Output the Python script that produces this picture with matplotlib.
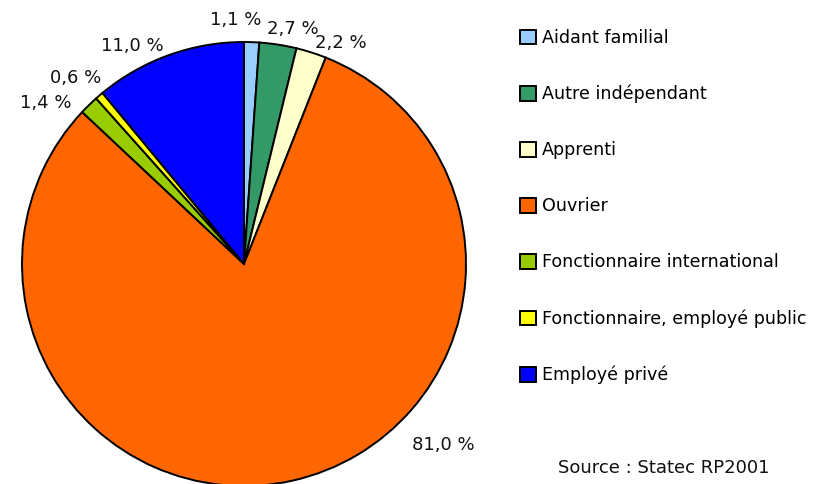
import matplotlib
matplotlib.use("Agg")
import matplotlib.pyplot as plt

# data
categories = ['Aidant familial', 'Autre indépendant', 'Apprenti', 'Ouvrier',
              'Fonctionnaire international', 'Fonctionnaire, employé public',
              'Employé privé']
shares = [1.1, 2.7, 2.2, 81.0, 1.4, 0.6, 11.0]
share_labels = ['1,1 %', '2,7 %', '2,2 %', '81,0 %', '1,4 %', '0,6 %', '11,0 %']
colors = ['#99CCFF', '#339966', '#FFFFCC', '#FF6600', '#99CC00', '#FFFF00', '#0000FF']

# where Excel put the percentage labels (pie radius = 1)
label_pos = [(-0.036, 1.099), (0.222, 1.06), (0.437, 0.995), (0.90, -0.815),
             (-0.892, 0.727), (-0.759, 0.840), (-0.505, 0.982)]

plt.rcParams['font.family'] = ['DejaVu Sans']

fig = plt.figure(figsize=(8.16, 4.84), dpi=100)
# axes sized so the pie radius is 222 px, centred at (244, 264)
ax = fig.add_axes([22 / 816, -2 / 484, 444 / 816, 444 / 484])
wedges, _ = ax.pie(shares, colors=colors, startangle=90, counterclock=False,
                   radius=1, wedgeprops=dict(edgecolor='black', linewidth=1.4))
for w in wedges:
    w.set_clip_on(False)
ax.set_xlim(-1, 1)
ax.set_ylim(-1, 1)
ax.set_aspect('equal')
ax.axis('off')

for txt, (x, y) in zip(share_labels, label_pos):
    ax.text(x, y, txt, ha='center', va='center', fontsize=13, color='#111111',
            clip_on=False)

leg = fig.legend(wedges, categories, loc='upper left',
                 bbox_to_anchor=(513 / 816, 1 - 22 / 484), frameon=False,
                 fontsize=12.6, handlelength=0.9, handleheight=0.9,
                 handletextpad=0.35, labelspacing=2.17, borderaxespad=0)
for h in leg.legend_handles:
    h.set_edgecolor('black')
    h.set_linewidth(1.4)

fig.text(770 / 816, 1 - 468 / 484, 'Source : Statec RP2001', ha='right',
         va='center', fontsize=13, color='#111111')

fig.savefig('out.png', dpi=100)
